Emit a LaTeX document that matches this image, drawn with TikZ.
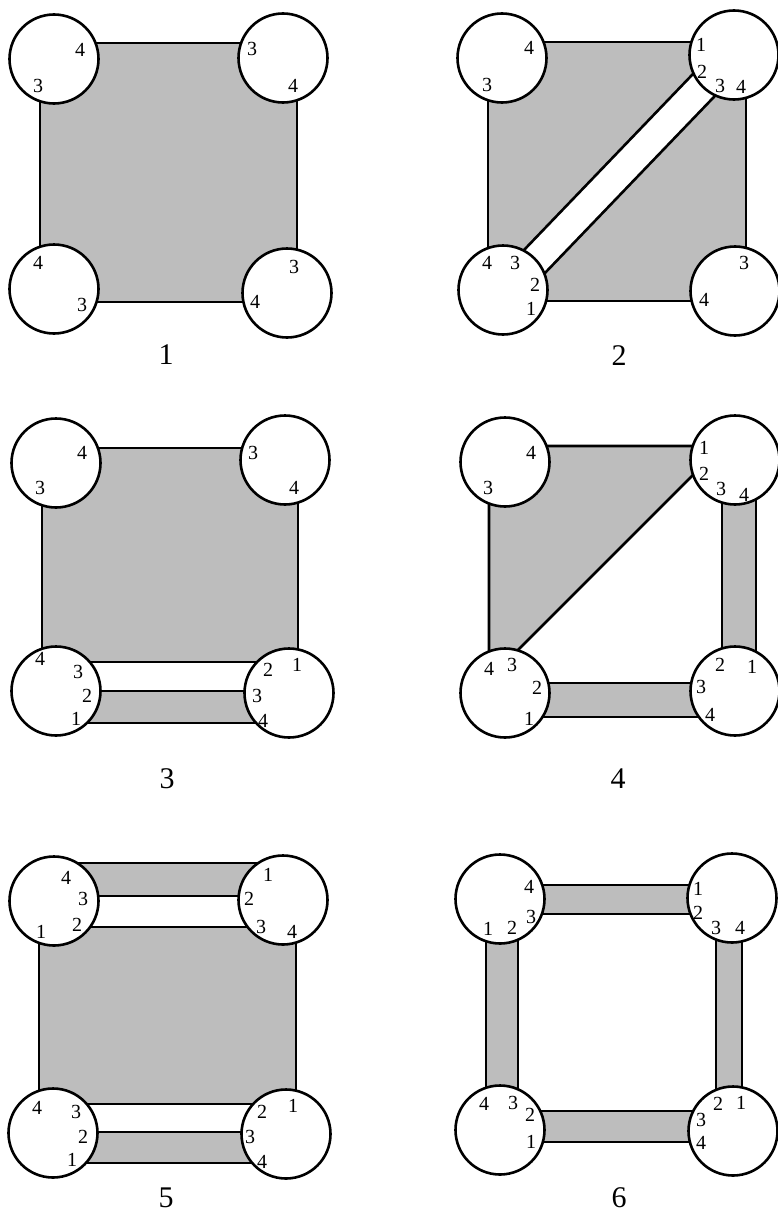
\documentclass[tikz,border=0pt]{standalone}
\usepackage{fontspec}
\setmainfont{Liberation Serif}
\begin{document}
\begin{tikzpicture}[x=1pt,y=-1pt,
  ball/.style={circle, draw, fill=white, line width=2.6pt, minimum size=89pt, inner sep=0pt},
  shaded/.style={fill=black!26, draw, line width=2.6pt, line join=miter},
  band/.style={fill=white, draw, line width=2.6pt},
  num/.style={font=\fontsize{20}{20}\selectfont, inner sep=0pt},
  captxt/.style={font=\fontsize{30}{30}\selectfont, inner sep=0pt}]
\useasboundingbox (0,0) rectangle (778,1212);

% ---------- Panel 1 ----------
\draw[shaded] (40,43) rectangle (297,302);
\node[ball] (a1) at (54,59) {};
\node[ball] (a2) at (283,58) {};
\node[ball] (a3) at (54,289) {};
\node[ball] (a4) at (287,293) {};
\foreach \t/\x/\y [count=\i] in {4/80/50,3/38/86,3/252/49,4/293/86,4/38/263,3/82/305,3/294/267,4/255/302}
  \node[num] (an\i) at (\x,\y) {\t};
\node[captxt] (c1) at (166,355) {1};

% ---------- Panel 2 ----------
\draw[shaded] (488,42) rectangle (746,301);
\draw[band] (500,275) -- (740,25) -- (760,49) -- (520,299) -- cycle;
\node[ball] (b1) at (502,58) {};
\node[ball] (b2) at (734,55) {};
\node[ball] (b3) at (503,290) {};
\node[ball] (b4) at (735,291) {};
\foreach \t/\x/\y [count=\i] in {4/529/48,3/487/85,1/701/45,2/702/72,3/720/86,4/741/87,4/487/263,3/515/263,2/535/285,1/531/309,3/744/263,4/704/300}
  \node[num] (bn\i) at (\x,\y) {\t};
\node[captxt] (c2) at (619,356) {2};

% ---------- Panel 3 ----------
\draw[shaded] (42,448) rectangle (298,662);
\draw[band] (56,662) rectangle (289,691);
\draw[shaded] (56,691) rectangle (289,723);
\node[ball] (d1) at (56,463) {};
\node[ball] (d2) at (285,460) {};
\node[ball] (d3) at (56,691) {};
\node[ball] (d4) at (289,693) {};
\foreach \t/\x/\y [count=\i] in {4/82/453,3/40/488,3/253/453,4/294/488,4/40/659,3/78/672,2/87/696,1/76/719,2/268/670,1/297/665,3/257/696,4/263/721}
  \node[num] (dn\i) at (\x,\y) {\t};
\node[captxt] (c3) at (167,779) {3};

% ---------- Panel 4 ----------
\draw[shaded] (489,446) -- (722,446) -- (500,668) -- (489,680) -- cycle;
\draw[shaded] (722,470) rectangle (756,680);
\draw[shaded] (520,683) rectangle (720,717);
\node[ball] (e1) at (505,462) {};
\node[ball] (e2) at (735,460) {};
\node[ball] (e3) at (505,693) {};
\node[ball] (e4) at (735,691) {};
\foreach \t/\x/\y [count=\i] in {4/531/453,3/488/488,1/704/448,2/704/474,3/721/489,4/744/495,4/489/669,3/512/665,2/537/688,1/529/719,2/720/665,1/752/667,3/701/687,4/710/715}
  \node[num] (en\i) at (\x,\y) {\t};
\node[captxt] (c4) at (618,779) {4};

% ---------- Panel 5 ----------
\draw[shaded] (60,863) rectangle (280,896);
\draw[band] (60,896) rectangle (280,927);
\draw[shaded] (39,927) rectangle (296,1104);
\draw[band] (60,1104) rectangle (280,1132);
\draw[shaded] (60,1132) rectangle (280,1163);
\node[ball] (f1) at (54,901) {};
\node[ball] (f2) at (283,900) {};
\node[ball] (f3) at (53,1133) {};
\node[ball] (f4) at (286,1134) {};
\foreach \t/\x/\y [count=\i] in {4/66/878,3/83/899,2/77/925,1/41/932,1/268/875,2/249/899,3/261/927,4/292/932,4/37/1108,3/76/1112,2/83/1137,1/72/1160,2/262/1112,1/293/1106,3/250/1137,4/262/1162}
  \node[num] (fn\i) at (\x,\y) {\t};
\node[captxt] (c5) at (166,1198) {5};

% ---------- Panel 6 ----------
\draw[shaded] (520,885) rectangle (712,914);
\draw[shaded] (486,920) rectangle (518,1110);
\draw[shaded] (716,920) rectangle (742,1110);
\draw[shaded] (520,1111) rectangle (712,1142);
\node[ball] (g1) at (500,899) {};
\node[ball] (g2) at (732,898) {};
\node[ball] (g3) at (500,1130) {};
\node[ball] (g4) at (733,1131) {};
\foreach \t/\x/\y [count=\i] in {4/529/887,3/531/917,1/488/929,2/512/928,1/698/889,2/698/913,3/716/928,4/740/928,4/484/1104,3/513/1103,2/530/1115,1/531/1142,2/718/1104,1/741/1103,3/701/1120,4/701/1143}
  \node[num] (gn\i) at (\x,\y) {\t};
\node[captxt] (c6) at (619,1198) {6};
\end{tikzpicture}
\end{document}
